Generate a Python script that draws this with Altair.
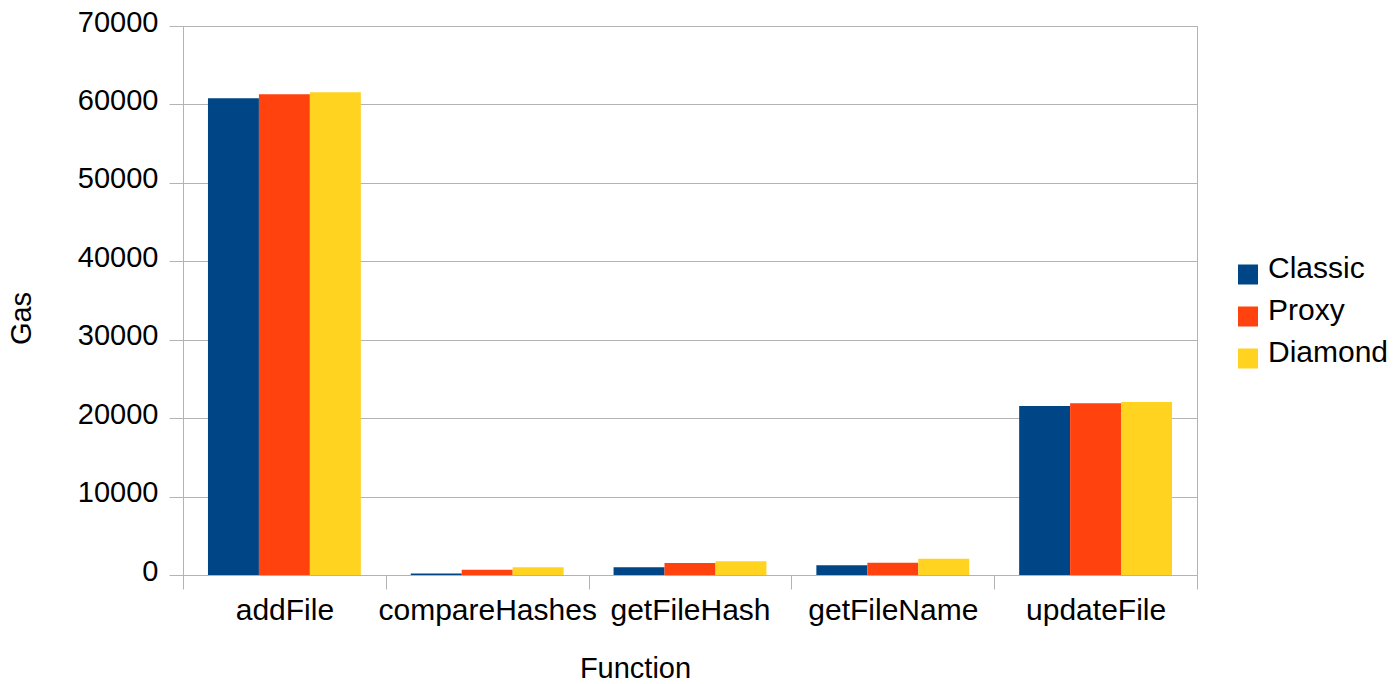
import altair as alt
import pandas as pd

functions = ["addFile", "compareHashes", "getFileHash", "getFileName", "updateFile"]
series = ["Classic", "Proxy", "Diamond"]
classic = [60780, 200, 980, 1230, 21550]
proxy = [61290, 680, 1530, 1570, 21890]
diamond = [61540, 980, 1740, 2080, 22060]
colors = ["#004586", "#ff420e", "#ffd320"]
y_ticks = [0, 10000, 20000, 30000, 40000, 50000, 60000, 70000]

rows = []
for i, f in enumerate(functions):
    for s, vals in zip(series, [classic, proxy, diamond]):
        rows.append({"Function": f, "Series": s, "Gas": vals[i]})
df = pd.DataFrame(rows)

FONT = "Liberation Sans"
GRAY = "#b3b3b3"
# square legend symbol drawn slightly below the label centre
SQUARE_LOW = "M-1,-0.45L1,-0.45L1,1.55L-1,1.55Z"

chart = alt.Chart(df).mark_bar().encode(
    x=alt.X(
        "Function:N",
        sort=functions,
        scale=alt.Scale(paddingInner=0, paddingOuter=0),
        axis=alt.Axis(
            title="Function",
            labelAngle=0,
            tickBand="extent",
            tickSize=14,
            tickColor=GRAY,
            domainColor=GRAY,
            grid=False,
            labelBaseline="alphabetic",
            labelPadding=30,
            labelFontSize=30,
            labelFont=FONT,
            labelColor="black",
            labelLimit=0,
            labelOverlap=False,
            titleFontSize=29,
            titleFont=FONT,
            titleFontWeight="normal",
            titleColor="black",
            titleAnchor="middle",
            titleX=452,
            titleY=102,
            titleBaseline="alphabetic",
        ),
    ),
    xOffset=alt.XOffset(
        "Series:N",
        sort=series,
        scale=alt.Scale(paddingInner=0, paddingOuter=0.49),
    ),
    y=alt.Y(
        "Gas:Q",
        scale=alt.Scale(domain=[0, 70000], nice=False),
        axis=alt.Axis(
            title="Gas",
            values=y_ticks,
            format="d",
            tickSize=14,
            tickColor=GRAY,
            domainColor=GRAY,
            gridColor=GRAY,
            labelPadding=11,
            labelFontSize=29,
            labelFont=FONT,
            labelColor="black",
            labelBaseline="alphabetic",
            labelOffset=5,
            titleFontSize=29,
            titleFont=FONT,
            titleFontWeight="normal",
            titleColor="black",
            titleAngle=-90,
            titleX=-153,
            titleY=292,
            titleAnchor="middle",
            titleBaseline="alphabetic",
        ),
    ),
    color=alt.Color(
        "Series:N",
        sort=series,
        scale=alt.Scale(domain=series, range=colors),
        legend=alt.Legend(
            title=None,
            orient="none",
            legendX=1050,
            legendY=228,
            symbolType=SQUARE_LOW,
            symbolSize=400,
            symbolStrokeWidth=0,
            labelFontSize=30,
            labelFont=FONT,
            labelColor="black",
            labelOffset=5,
            rowPadding=11,
        ),
    ),
).properties(
    width=1014,
    height=549,
    autosize=alt.AutoSizeParams(type="none"),
    padding={"left": 175, "top": 18, "right": 191, "bottom": 108},
).configure_view(
    stroke=GRAY,
    strokeWidth=1,
)

chart.save("out.html", embed_options={"renderer": "svg", "actions": False})
